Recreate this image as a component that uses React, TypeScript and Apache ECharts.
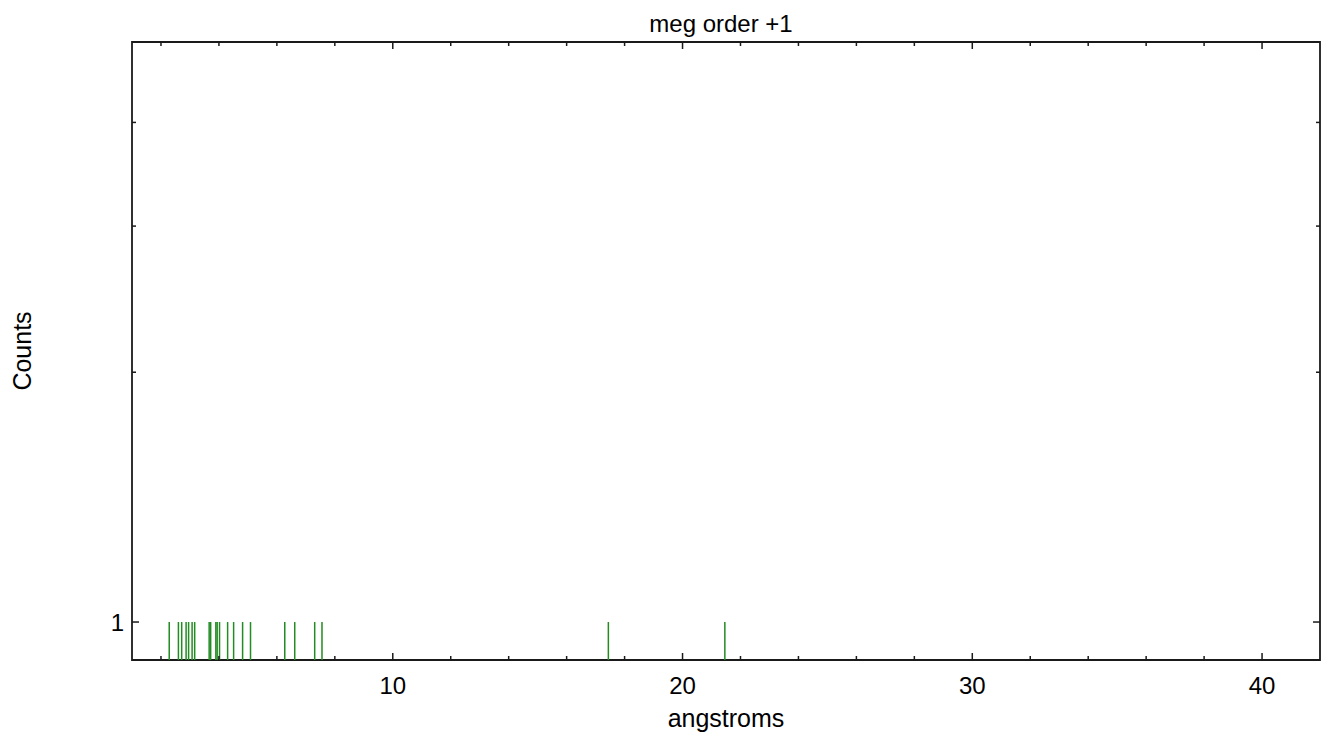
import React, { useEffect, useRef } from 'react';
import * as echarts from 'echarts';

const chartTitle = 'meg order +1';
const xAxisName = 'angstroms';
const yAxisName = 'Counts';

// event wavelengths (angstroms) and their counts
const wavelengths = [
  2.285, 2.602, 2.715, 2.867, 2.953, 3.074, 3.163, 3.663, 3.715, 3.894, 3.939,
  4.021, 4.3, 4.507, 4.817, 5.09, 6.272, 6.616, 7.305, 7.557, 17.44, 21.46,
];
const counts = [
  1, 1, 1, 1, 1, 1, 1, 1, 1, 1, 1, 1, 1, 1, 1, 1, 1, 1, 1, 1, 1, 1,
];

const xRange = [1, 42];
const yRange = [0.9, 5];
const xMajorTicks = [10, 20, 30, 40];
const xMinorTicks = [2, 4, 6, 8, 12, 14, 16, 18, 22, 24, 26, 28, 32, 34, 36, 38];
const yMajorTicks = [1];
const yMinorTicks = [2, 3, 4];

const MAJOR_LEN = 7;
const MINOR_LEN = 4;
const TICK_COLOR = '#1a1a1a';
const STEM_COLOR = '#228B22';
const FONT = 'Liberation Sans, Arial, Helvetica, sans-serif';

export default function App() {
  const ref = useRef<HTMLDivElement>(null);

  useEffect(() => {
    if (!ref.current) return;
    const chart = echarts.init(ref.current, null, { renderer: 'svg' });

    const xTickData = [
      ...xMajorTicks.map((v) => [v, 1, MAJOR_LEN]),
      ...xMinorTicks.map((v) => [v, 1, MINOR_LEN]),
    ];
    const yTickData = [
      ...yMajorTicks.map((v) => [2, v, MAJOR_LEN]),
      ...yMinorTicks.map((v) => [2, v, MINOR_LEN]),
    ];
    const stemData = wavelengths.map((w, i) => [w, counts[i]]);

    const option: any = {
      animation: false,
      backgroundColor: '#fff',
      title: {
        text: chartTitle,
        left: 716,
        top: 6,
        textAlign: 'center',
        textStyle: {
          fontFamily: FONT,
          fontSize: 24,
          fontWeight: 'normal',
          color: '#000',
        },
      },
      grid: {
        left: 132,
        right: 7,
        top: 42,
        bottom: 78,
        show: true,
        borderColor: TICK_COLOR,
        borderWidth: 1.8,
        backgroundColor: '#fff',
      },
      xAxis: {
        type: 'value',
        min: xRange[0],
        max: xRange[1],
        interval: 1,
        name: xAxisName,
        nameLocation: 'middle',
        nameGap: 45,
        nameTextStyle: {
          fontFamily: FONT,
          fontSize: 25,
          color: '#000',
        },
        axisLine: { show: false },
        axisTick: { show: false },
        splitLine: { show: false },
        axisLabel: {
          margin: 13,
          fontFamily: FONT,
          fontSize: 24,
          color: '#000',
          showMinLabel: true,
          showMaxLabel: true,
          formatter: (v: number) => (Math.abs(v % 10) < 1e-9 ? String(v) : ''),
        },
      },
      yAxis: {
        type: 'log',
        logBase: 10,
        min: yRange[0],
        max: yRange[1],
        name: yAxisName,
        nameLocation: 'middle',
        nameGap: 98,
        nameRotate: 90,
        nameTextStyle: {
          fontFamily: FONT,
          fontSize: 25,
          color: '#000',
        },
        axisLine: { show: false },
        axisTick: { show: false },
        splitLine: { show: false },
        axisLabel: {
          margin: 8,
          fontFamily: FONT,
          fontSize: 24,
          color: '#000',
          formatter: (v: number) => (Math.abs(v - 1) < 1e-6 ? '1' : ''),
        },
      },
      series: [
        {
          type: 'custom',
          name: 'stems',
          silent: true,
          data: stemData,
          renderItem: (params: any, api: any) => {
            const cs = params.coordSys;
            const top = api.coord([api.value(0), api.value(1)]);
            return {
              type: 'line',
              shape: { x1: top[0], y1: top[1], x2: top[0], y2: cs.y + cs.height },
              style: { stroke: STEM_COLOR, lineWidth: 1.5 },
            };
          },
        },
        {
          type: 'custom',
          name: 'xticks',
          silent: true,
          data: xTickData,
          renderItem: (params: any, api: any) => {
            const cs = params.coordSys;
            const p = api.coord([api.value(0), api.value(1)]);
            const len = api.value(2);
            const bottom = cs.y + cs.height;
            return {
              type: 'group',
              children: [
                {
                  type: 'line',
                  shape: { x1: p[0], y1: bottom, x2: p[0], y2: bottom - len },
                  style: { stroke: TICK_COLOR, lineWidth: 1.5 },
                },
                {
                  type: 'line',
                  shape: { x1: p[0], y1: cs.y, x2: p[0], y2: cs.y + len },
                  style: { stroke: TICK_COLOR, lineWidth: 1.5 },
                },
              ],
            };
          },
        },
        {
          type: 'custom',
          name: 'yticks',
          silent: true,
          data: yTickData,
          renderItem: (params: any, api: any) => {
            const cs = params.coordSys;
            const p = api.coord([api.value(0), api.value(1)]);
            const len = api.value(2);
            const right = cs.x + cs.width;
            return {
              type: 'group',
              children: [
                {
                  type: 'line',
                  shape: { x1: cs.x, y1: p[1], x2: cs.x + len, y2: p[1] },
                  style: { stroke: TICK_COLOR, lineWidth: 1.5 },
                },
                {
                  type: 'line',
                  shape: { x1: right, y1: p[1], x2: right - len, y2: p[1] },
                  style: { stroke: TICK_COLOR, lineWidth: 1.5 },
                },
              ],
            };
          },
        },
      ],
    };

    chart.setOption(option);
    return () => {
      chart.dispose();
    };
  }, []);

  return (
    <div
      ref={ref}
      style={{ position: 'fixed', left: 0, top: 0, width: 1327, height: 738, background: '#fff' }}
    />
  );
}
